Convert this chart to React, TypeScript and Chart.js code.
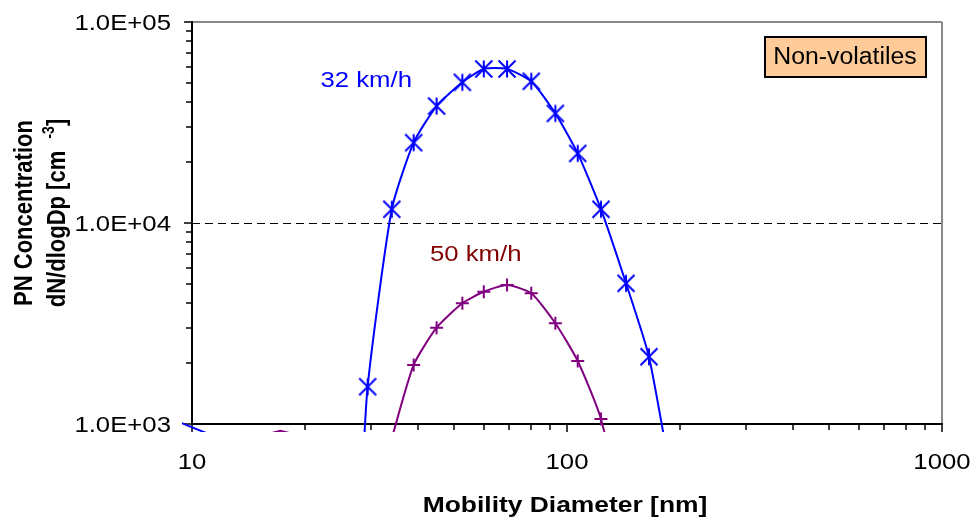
import React, { useEffect, useRef } from "react";
import { Chart, registerables } from "chart.js";

Chart.register(...registerables);

// ---- data ----
// 32 km/h: mobility diameter [nm] and dN/dlogDp [cm-3]; first/last entries are the tails below the axis minimum
const size32 = [28.0, 29.4, 34.1, 39.0, 44.9, 52.6, 60.0, 69.2, 80.3, 93.1, 106.8, 123.2, 143.7, 165.4, 191.0];
const conc32 = [300, 1533, 11700, 25100, 38200, 50100, 58400, 58400, 50700, 35100, 22200, 11700, 5010, 2162, 500];
// 50 km/h
const size50 = [34.1, 39.0, 44.9, 52.6, 60.0, 69.2, 80.3, 93.1, 106.8, 123.2, 143.7];
const conc50 = [850, 1966, 3014, 3986, 4550, 4914, 4469, 3170, 2058, 1059, 300];
// small curve pieces that graze the bottom edge of the plot
const size32Low = [9.0, 11.5];
const conc32Low = [1042, 867];
const size50Low = [15.5, 17.2, 19.2];
const conc50Low = [880, 925, 880];

const xMajor = [10, 100, 1000];
const xLabels = ["10", "100", "1000"];
const xMinor = [20, 30, 40, 50, 60, 70, 80, 90, 200, 300, 400, 500, 600, 700, 800, 900];
const yMajor = [1000, 10000, 100000];
const yLabels = ["1.0E+03", "1.0E+04", "1.0E+05"];
const yMinor = [2000, 3000, 4000, 5000, 6000, 7000, 8000, 9000, 20000, 30000, 40000, 50000, 60000, 70000, 80000, 90000];
const yDashed = [10000];

const label32 = { text: "32 km/h", x: 22.0, y: 47700 };
const label50 = { text: "50 km/h", x: 43.1, y: 6490 };
const boxText = "Non-volatiles";
const xTitle = "Mobility Diameter [nm]";
const yTitle1 = "PN Concentration";
const yTitle2 = "dN/dlogDp [cm  ";
const yTitleSup = "-3";
const yTitleEnd = "]";

const BLUE = "#0000FF";
const PURPLE = "#800080";
const DARKRED = "#800000";
const FONT = "'Liberation Sans', Arial, sans-serif";

const pts = (xs: number[], ys: number[]) => xs.map((x, i) => ({ x, y: ys[i] }));

function makeStar(color: string) {
  const c = document.createElement("canvas");
  const s = 20;
  c.width = s;
  c.height = s;
  const g = c.getContext("2d")!;
  g.strokeStyle = color;
  g.lineWidth = 2;
  const h = s / 2;
  const r = 8.5;
  g.beginPath();
  g.moveTo(h - r, h - r);
  g.lineTo(h + r, h + r);
  g.moveTo(h + r, h - r);
  g.lineTo(h - r, h + r);
  g.moveTo(h, h - r);
  g.lineTo(h, h + r);
  g.stroke();
  return c;
}

function text(
  ctx: CanvasRenderingContext2D,
  s: string,
  x: number,
  y: number,
  font: string,
  color: string,
  align: CanvasTextAlign,
  sx: number
) {
  ctx.save();
  ctx.font = font;
  ctx.fillStyle = color;
  ctx.textBaseline = "alphabetic";
  ctx.textAlign = align;
  ctx.translate(x, y);
  ctx.scale(sx, 1);
  ctx.fillText(s, 0, 0);
  ctx.restore();
}

function seg(ctx: CanvasRenderingContext2D, x1: number, y1: number, x2: number, y2: number) {
  ctx.beginPath();
  ctx.moveTo(x1, y1);
  ctx.lineTo(x2, y2);
  ctx.stroke();
}

const decorations = {
  id: "decorations",
  beforeDatasetsDraw(chart: any) {
    const { ctx, chartArea: a, scales } = chart;
    const xs = scales.x;
    const ys = scales.y;
    ctx.save();
    // dashed major grid line
    ctx.strokeStyle = "#000";
    ctx.lineWidth = 1;
    ctx.setLineDash([8, 5]);
    for (const v of yDashed) {
      const py = Math.round(ys.getPixelForValue(v)) + 0.5;
      seg(ctx, a.left, py, a.right, py);
    }
    ctx.setLineDash([]);
    // grey top and right frame
    ctx.strokeStyle = "#888888";
    ctx.lineWidth = 2;
    seg(ctx, a.left, a.top, a.right, a.top);
    seg(ctx, a.right, a.top, a.right, a.bottom);
    // black axes
    ctx.strokeStyle = "#000";
    ctx.lineWidth = 2;
    seg(ctx, a.left, a.top - 1, a.left, a.bottom + 1);
    seg(ctx, a.left - 1, a.bottom, a.right + 1, a.bottom);
    // ticks
    ctx.lineWidth = 1.5;
    for (const v of yMajor) {
      const py = Math.round(ys.getPixelForValue(v));
      seg(ctx, a.left - 8, py, a.left, py);
    }
    for (const v of yMinor) {
      const py = Math.round(ys.getPixelForValue(v));
      seg(ctx, a.left - 6, py, a.left, py);
    }
    for (const v of xMajor) {
      const px = Math.round(xs.getPixelForValue(v));
      seg(ctx, px, a.bottom, px, a.bottom + 8);
    }
    for (const v of xMinor) {
      const px = Math.round(xs.getPixelForValue(v));
      seg(ctx, px, a.bottom, px, a.bottom + 6);
    }
    ctx.restore();
  },
  afterDraw(chart: any) {
    const { ctx, chartArea: a, scales } = chart;
    const xs = scales.x;
    const ys = scales.y;
    const reg = `22px ${FONT}`;
    const bold = `bold 22px ${FONT}`;
    // tick labels
    yMajor.forEach((v, i) => {
      text(ctx, yLabels[i], a.left - 21, ys.getPixelForValue(v) + 7.5, reg, "#000", "right", 1.17);
    });
    xMajor.forEach((v, i) => {
      text(ctx, xLabels[i], xs.getPixelForValue(v), a.bottom + 45, reg, "#000", "center", 1.17);
    });
    // axis titles
    text(ctx, xTitle, (a.left + a.right) / 2 - 2, 512, bold, "#000", "center", 1.2);
    const cy = (a.top + a.bottom) / 2 - 10;
    ctx.save();
    ctx.fillStyle = "#000";
    ctx.textBaseline = "alphabetic";
    ctx.textAlign = "left";
    // line 1
    ctx.save();
    ctx.translate(32, cy);
    ctx.rotate(-Math.PI / 2);
    ctx.scale(1, 1.17);
    ctx.font = bold;
    const w1 = ctx.measureText(yTitle1).width;
    ctx.fillText(yTitle1, -w1 / 2, 0);
    ctx.restore();
    // line 2 with superscript
    ctx.save();
    ctx.translate(65, cy);
    ctx.rotate(-Math.PI / 2);
    ctx.scale(1, 1.17);
    const supFont = `bold 14px ${FONT}`;
    ctx.font = bold;
    const wa = ctx.measureText(yTitle2).width;
    const wc = ctx.measureText(yTitleEnd).width;
    ctx.font = supFont;
    const wb = ctx.measureText(yTitleSup).width;
    let cx = -(wa + wb + wc) / 2;
    ctx.font = bold;
    ctx.fillText(yTitle2, cx, 0);
    cx += wa;
    ctx.font = supFont;
    ctx.fillText(yTitleSup, cx, -9);
    cx += wb;
    ctx.font = bold;
    ctx.fillText(yTitleEnd, cx, 0);
    ctx.restore();
    ctx.restore();
    // series labels
    text(ctx, label32.text, xs.getPixelForValue(label32.x), ys.getPixelForValue(label32.y), reg, BLUE, "left", 1.17);
    text(ctx, label50.text, xs.getPixelForValue(label50.x), ys.getPixelForValue(label50.y), reg, DARKRED, "left", 1.17);
    // boxed label
    ctx.save();
    ctx.fillStyle = "#FFCC99";
    ctx.strokeStyle = "#000";
    ctx.lineWidth = 2;
    ctx.fillRect(765, 37, 161, 40);
    ctx.strokeRect(765, 37, 161, 40);
    ctx.restore();
    text(ctx, boxText, 845, 64, `23px ${FONT}`, "#000", "center", 1.08);
  },
};

export default function App() {
  const ref = useRef<HTMLCanvasElement | null>(null);

  useEffect(() => {
    if (!ref.current) return;
    const star = makeStar(BLUE);
    const markerRadius = (r: number) => (c: any) => (c.raw && c.raw.y >= 1000 ? r : 0);
    const clip = { left: 10, top: 0, right: 0, bottom: 8 } as any;
    const chart = new Chart(ref.current, {
      type: "line",
      data: {
        datasets: [
          {
            label: "32 km/h",
            data: pts(size32, conc32),
            borderColor: BLUE,
            backgroundColor: BLUE,
            borderWidth: 2,
            tension: 0.2,
            pointStyle: star as any,
            pointRadius: markerRadius(9) as any,
            pointBorderColor: BLUE,
            clip,
          },
          {
            label: "50 km/h",
            data: pts(size50, conc50),
            borderColor: PURPLE,
            backgroundColor: PURPLE,
            borderWidth: 2,
            tension: 0.2,
            pointStyle: "cross",
            pointRadius: markerRadius(6.5) as any,
            pointBorderColor: PURPLE,
            pointBorderWidth: 2,
            clip,
          },
          {
            label: "32 km/h low",
            data: pts(size32Low, conc32Low),
            borderColor: BLUE,
            borderWidth: 2,
            tension: 0,
            pointRadius: 0,
            clip,
          },
          {
            label: "50 km/h low",
            data: pts(size50Low, conc50Low),
            borderColor: PURPLE,
            borderWidth: 2,
            tension: 0,
            pointRadius: 0,
            clip,
          },
        ],
      },
      options: {
        animation: false,
        responsive: false,
        devicePixelRatio: 1,
        events: [],
        layout: { padding: { left: 0, top: 22, right: 29, bottom: 0 } },
        plugins: { legend: { display: false }, tooltip: { enabled: false }, title: { display: false } },
        scales: {
          x: {
            type: "logarithmic",
            min: 10,
            max: 1000,
            ticks: { display: false },
            grid: { display: false, drawTicks: false },
            border: { display: false },
            afterFit: (s: any) => {
              s.height = 96;
            },
          },
          y: {
            type: "logarithmic",
            min: 1000,
            max: 100000,
            ticks: { display: false },
            grid: { display: false, drawTicks: false },
            border: { display: false },
            afterFit: (s: any) => {
              s.width = 192;
            },
          },
        },
      },
      plugins: [decorations],
    });
    return () => chart.destroy();
  }, []);

  return (
    <div style={{ position: "fixed", left: 0, top: 0, width: 971, height: 520, background: "#fff" }}>
      <canvas ref={ref} width={971} height={520} style={{ display: "block", width: 971, height: 520 }} />
    </div>
  );
}
